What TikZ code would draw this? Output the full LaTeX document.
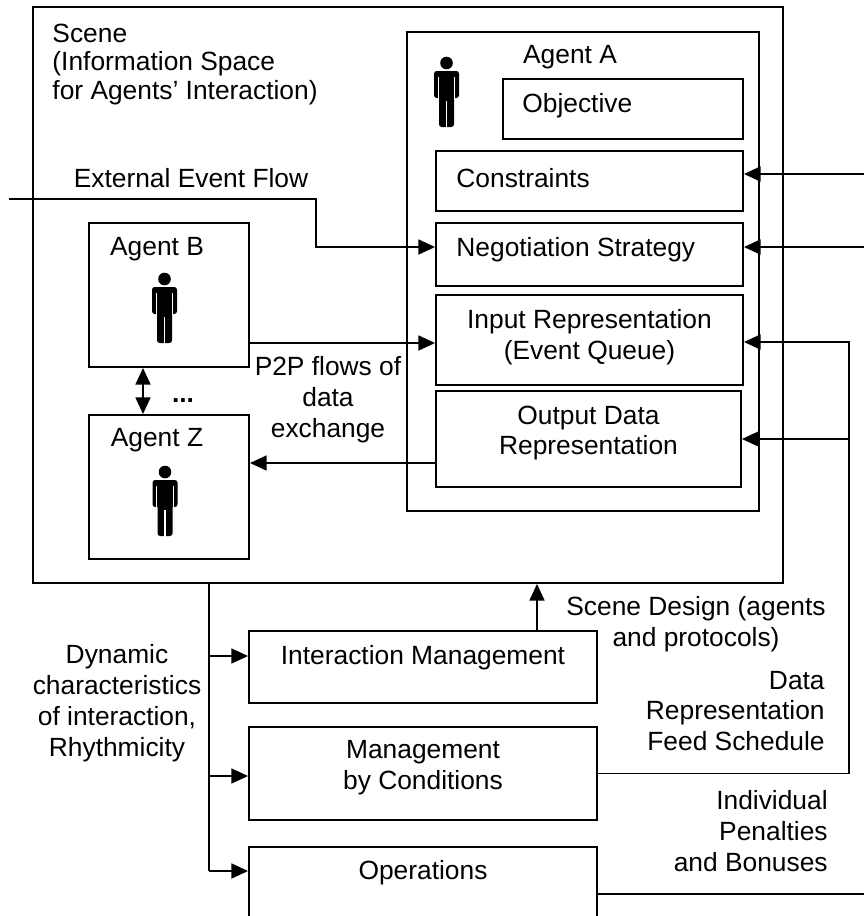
\documentclass[tikz,border=0pt]{standalone}
\usepackage{fontspec}
\setmainfont{Liberation Sans}
\usetikzlibrary{arrows.meta}
\newcommand{\agenticon}[1]{%
    \begin{scope}[shift={#1}]
        \fill (0,0) circle (6.3);
        \fill[rounded corners=1.5pt] (-12.5,35) -- (-12.5,8) -- (12.5,8) -- (12.5,35) -- cycle;
        \fill[rounded corners=1.5pt] (-7.5,30) -- (-7.5,64) -- (7.5,64) -- (7.5,30) -- cycle;
        \draw[white, line width=0.6pt] (-8.3,14) -- (-8.3,36) (8.3,14) -- (8.3,36) (0,38) -- (0,65);
    \end{scope}}

\begin{document}
\begin{tikzpicture}[line join=miter,>={Triangle[length=9.5pt,width=8.5pt]},x=0.02cm,y=-0.02cm,
    font=\fontsize{15}{17.6}\selectfont, inner sep=0pt,
    box/.style={draw, line width=1.1pt, inner sep=0pt},
    flow/.style={line width=1.1pt, ->},
    every label/.style={inner sep=0pt, align=center}]
    \clip (0,0) rectangle (864,916);

    % Scene and agents
    \node[box, minimum width=15cm, minimum height=11.52cm] (scene) at (408,295)
        [label={[anchor=north west, align=left, xshift=0.4cm, yshift=-0.36cm, font=\fontsize{15}{16}\selectfont]north west:Scene\\(Information Space\\for Agents’ Interaction)}] {};
    \node[box, minimum width=7.04cm, minimum height=9.58cm] (agentA) at (583,271.5)
        [label={[anchor=center, xshift=-0.26cm, yshift=-0.52cm]north:Agent A}] {};
    \node[box, minimum width=3.2cm, minimum height=2.88cm] (agentB) at (169,295)
        [label={[anchor=center, xshift=-0.24cm, yshift=-0.54cm]north:Agent B}] {};
    \node[box, minimum width=3.2cm, minimum height=2.88cm] (agentZ) at (169,487)
        [label={[anchor=center, xshift=-0.24cm, yshift=-0.52cm]north:Agent Z}] {};

    % Agent A parts
    \node[box, minimum width=4.8cm, minimum height=1.2cm] (objective) at (623,109)
        [label={[anchor=west, xshift=0.4cm, yshift=0.06cm]west:Objective}] {};
    \node[box, minimum width=6.14cm, minimum height=1.2cm] (constraints) at (589.5,181)
        [label={[anchor=west, xshift=0.42cm, yshift=0.06cm]west:Constraints}] {};
    \node[box, minimum width=6.14cm, minimum height=1.26cm] (negotiation) at (589.5,254.5)
        [label={[anchor=west, xshift=0.42cm, yshift=0.1cm]west:Negotiation Strategy}] {};
    \node[box, minimum width=6.14cm, minimum height=1.8cm] (inputrep) at (589.5,340)
        [label={[yshift=0.05cm]center:Input Representation\\(Event Queue)}] {};
    \node[box, minimum width=6.1cm, minimum height=1.92cm] (outputrep) at (588.5,439)
        [label={[yshift=0.12cm]center:Output Data\\Representation}] {};

    % Management boxes
    \node[box, minimum width=6.96cm, minimum height=1.44cm] (inter) at (423,667)
        [label={[yshift=0.18cm]center:Interaction Management}] {};
    \node[box, minimum width=6.96cm, minimum height=1.86cm] (mgmtcond) at (423,773.5)
        [label={[yshift=0.11cm]center:Management\\by Conditions}] {};
    \node[box, minimum width=6.96cm, minimum height=2.26cm] (ops) at (423,903.5)
        [label={[yshift=0.61cm]center:Operations}] {};

    % Icons
    \agenticon{(446.5,63)}
    \agenticon{(164.5,279)}
    \agenticon{(165,472)}

    % Free texts
    \node (extlabel) at (191,178) {External Event Flow};
    \node[align=center] (p2plabel) at (328,400) {P2P flows of\\data\\exchange};
    \node (dots) at (183,401) {\textbf{...}};
    \node[align=center] (dynlabel) at (117,703) {Dynamic\\characteristics\\of interaction,\\Rhythmicity};
    \node[align=center] (designlabel) at (696,624) {Scene Design (agents\\and protocols)};
    \node[align=right, anchor=east] (feedlabel) at (825,711) {Data\\Representation\\Feed Schedule};
    \node[align=right, anchor=east] (penaltylabel) at (828,831) {Individual\\Penalties\\and Bonuses};

    % Free ends
    \coordinate (extin) at (9,199);
    \coordinate (inC) at (864,174);
    \coordinate (inN) at (864,247);
    \coordinate (opsout) at (864,894);
    \coordinate (trunk) at (scene.south -| 209,0);

    % Connectors
    \draw[flow] (extin) -- (316,199) -- (316,247) -- (negotiation.west |- 316,247);
    \draw[flow] (agentB.east |- 0,343) -- (inputrep.west |- 0,343);
    \draw[flow] (outputrep.west |- 0,463) -- (agentZ.east |- 0,463);
    \draw[line width=1.1pt, <->] (agentB.south -| 143,0) -- (agentZ.north -| 143,0);
    \draw[flow] (inC) -- (constraints.east |- inC);
    \draw[flow] (inN) -- (negotiation.east |- inN);
    \draw[flow] (mgmtcond.east) -| (849,342) -- (inputrep.east |- 0,342);
    \draw[flow] (849,439) -- (outputrep.east);
    \draw[line width=1.1pt] (ops.east |- opsout) -- (opsout);
    \draw[flow] (inter.north -| 537,0) -- (scene.south -| 537,0);
    \draw[line width=1.1pt] (trunk) -- (209,871);
    \foreach \target/\ypos in {inter/656, mgmtcond/776, ops/871} {
            \draw[flow] (trunk |- 0,\ypos) -- (\target.west |- 0,\ypos);
        }
\end{tikzpicture}
\end{document}
